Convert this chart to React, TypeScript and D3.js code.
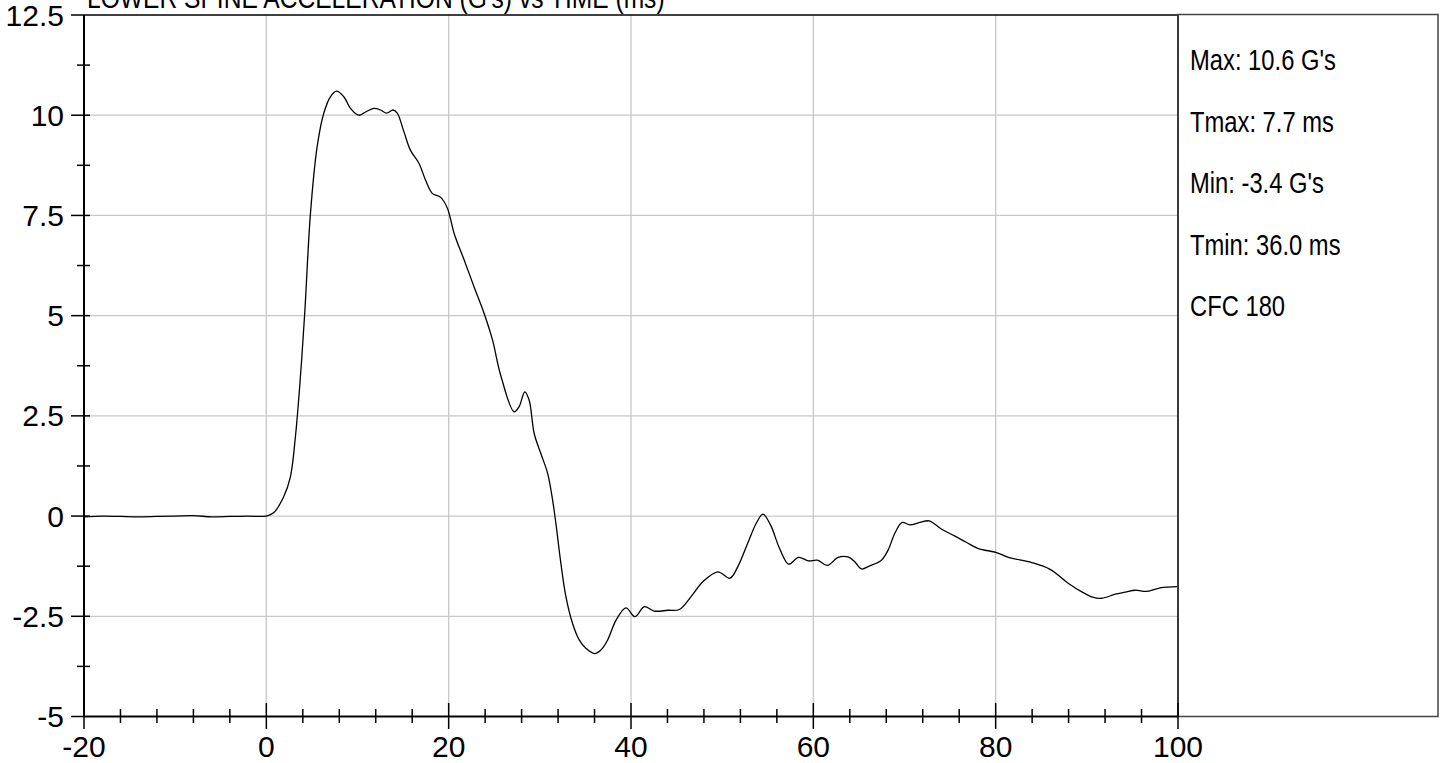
import React from "react";
import * as d3 from "d3";

const timeMs = [
  -20, -18, -16, -14, -12, -10, -8, -6, -4, -2, 0, 0.8, 1.9, 2.64, 3.19, 3.74, 4.21, 4.84, 5.57, 6.3,
  7.03, 7.7, 8.5, 9.23, 10.14, 10.88, 11.79, 12.53, 13.19, 13.9, 14.36, 15.09, 15.8, 16.74, 17.47,
  18.2, 19.12, 19.86, 20.6, 21.7, 22.78, 23.88, 24.8, 25.7, 27.18, 27.73, 28.35, 28.83, 29.38,
  30.11, 30.85, 31.4, 31.76, 32.31, 32.86, 33.59, 34.32, 35.05, 36.0, 36.7, 37.44, 38.35, 39.45,
  40.44, 41.46, 42.56, 44.03, 45.3, 46.59, 47.88, 49.52, 50.85, 51.72, 52.8, 53.74, 54.47, 55.3,
  56.3, 57.29, 58.38, 59.48, 60.44, 61.54, 62.71, 63.81, 64.54, 65.27, 66.19, 67.47, 68.2, 68.94,
  69.75, 70.58, 71.68, 72.71, 74.07, 75.53, 76.81, 78.1, 80.11, 81.4, 83.96, 85.97, 87.99, 89.45,
  90.73, 91.65, 93.11, 94.21, 95.31, 96.59, 98.05, 100,
];

const accelG = [
  -0.02, 0.0, -0.01, -0.02, -0.01, 0.0, 0.01, -0.02, -0.01, 0.0, 0.0, 0.08, 0.48, 0.98, 1.98, 3.48, 5.06, 7.55, 9.21, 10.05,
  10.46, 10.6, 10.46, 10.17, 10.0, 10.08, 10.17, 10.13, 10.05, 10.13, 10.05, 9.59, 9.13, 8.8, 8.38,
  8.05, 7.95, 7.68, 7.05, 6.39, 5.72, 5.06, 4.4, 3.52, 2.6, 2.73, 3.1, 2.89, 2.06,
  1.56, 1.07, 0.4, -0.18, -1.18, -2.01, -2.68, -3.09, -3.3, -3.43, -3.34, -3.09, -2.6, -2.29,
  -2.51, -2.26, -2.37, -2.35, -2.33, -2.01, -1.64, -1.39, -1.55, -1.26, -0.68, -0.18, 0.05, -0.22,
  -0.81, -1.2, -1.03, -1.12, -1.1, -1.23, -1.03, -1.02, -1.14, -1.32, -1.24, -1.1, -0.85, -0.43,
  -0.16, -0.22, -0.16, -0.12, -0.33, -0.5, -0.66, -0.81, -0.91, -1.03, -1.16, -1.33, -1.68, -1.89,
  -2.03, -2.05, -1.95, -1.9, -1.85, -1.88, -1.79, -1.76,
];

const xTickValues = [-20, 0, 20, 40, 60, 80, 100];
const xTickLabels = ["-20", "0", "20", "40", "60", "80", "100"];
const yTickValues = [-5, -2.5, 0, 2.5, 5, 7.5, 10, 12.5];
const yTickLabels = ["-5", "-2.5", "0", "2.5", "5", "7.5", "10", "12.5"];
const legendLines = ["Max: 10.6 G's", "Tmax: 7.7 ms", "Min: -3.4 G's", "Tmin: 36.0 ms", "CFC 180"];
const chartTitle = "LOWER SPINE ACCELERATION (G's) vs TIME (ms)";

const W = 1444;
const H = 763;
const L = 84;
const R = 1178;
const T = 15;
const B = 716.5;

const font = "Arial, 'Liberation Sans', sans-serif";
const narrow = 0.82;

export default function App() {
  const x = d3.scaleLinear().domain([-20, 100]).range([L, R]);
  const y = d3.scaleLinear().domain([-5, 12.5]).range([B, T]);

  const data = timeMs.map((t, i) => [t, accelG[i]] as [number, number]);
  const line = d3
    .line<[number, number]>()
    .x((d) => x(d[0]))
    .y((d) => y(d[1]))
    .curve(d3.curveCatmullRom.alpha(0.5));

  const xMinor = d3.range(-20, 100.001, 4).filter((v) => Math.abs(v % 20) > 1e-6);
  const yMinor = d3.range(-5, 12.5001, 1.25).filter((v) => Math.abs(v / 2.5 - Math.round(v / 2.5)) > 1e-6);

  return (
    <svg
      width={W}
      height={H}
      style={{ position: "absolute", left: 0, top: 0, display: "block", background: "#fff" }}
    >
      {/* grid */}
      {xTickValues.slice(1, -1).map((v) => (
        <line key={"gx" + v} x1={x(v)} x2={x(v)} y1={T} y2={B} stroke="#c8c8c8" strokeWidth={1.3} />
      ))}
      {yTickValues.slice(1, -1).map((v) => (
        <line key={"gy" + v} x1={L} x2={R} y1={y(v)} y2={y(v)} stroke="#c8c8c8" strokeWidth={1.3} />
      ))}

      {/* curve */}
      <path d={line(data) || ""} fill="none" stroke="#000" strokeWidth={1.3} />

      {/* frame */}
      <line x1={L} x2={R} y1={T} y2={T} stroke="#000" strokeWidth={1.3} />
      <line x1={R} x2={R} y1={T} y2={B} stroke="#000" strokeWidth={1.8} />
      <line x1={L} x2={L} y1={T} y2={B} stroke="#000" strokeWidth={2} />
      <line x1={L} x2={R} y1={B} y2={B} stroke="#000" strokeWidth={2} />

      {/* legend box */}
      <rect x={R} y={14.5} width={1438 - R} height={B - 14.5} fill="none" stroke="#444" strokeWidth={1.5} />
      {legendLines.map((s, i) => (
        <text
          key={s}
          transform={`translate(1190,${70 + i * 61.5}) scale(${narrow},1)`}
          fontFamily={font}
          fontSize={29}
          fill="#000"
        >
          {s}
        </text>
      ))}

      {/* y ticks */}
      {yTickValues.map((v, i) => (
        <g key={"yt" + v}>
          <line x1={71} x2={i === yTickValues.length - 1 || i === 0 ? L : 90} y1={y(v)} y2={y(v)} stroke="#000" strokeWidth={1.5} />
          <text x={64} y={y(v)} dy="0.35em" textAnchor="end" fontFamily={font} fontSize={30} fill="#000">
            {yTickLabels[i]}
          </text>
        </g>
      ))}
      {yMinor.map((v) => (
        <line key={"ym" + v} x1={77} x2={90} y1={y(v)} y2={y(v)} stroke="#000" strokeWidth={1.5} />
      ))}

      {/* x ticks */}
      {xTickValues.map((v, i) => (
        <g key={"xt" + v}>
          <line x1={x(v)} x2={x(v)} y1={703} y2={729} stroke="#000" strokeWidth={1.5} />
          <text x={x(v)} y={757} textAnchor="middle" fontFamily={font} fontSize={30} fill="#000">
            {xTickLabels[i]}
          </text>
        </g>
      ))}
      {xMinor.map((v) => (
        <line key={"xm" + v} x1={x(v)} x2={x(v)} y1={709} y2={723} stroke="#000" strokeWidth={1.5} />
      ))}

      {/* title */}
      <text transform={`translate(87,8) scale(${narrow},1)`} fontFamily={font} fontSize={30} fill="#000">
        {chartTitle}
      </text>
    </svg>
  );
}
